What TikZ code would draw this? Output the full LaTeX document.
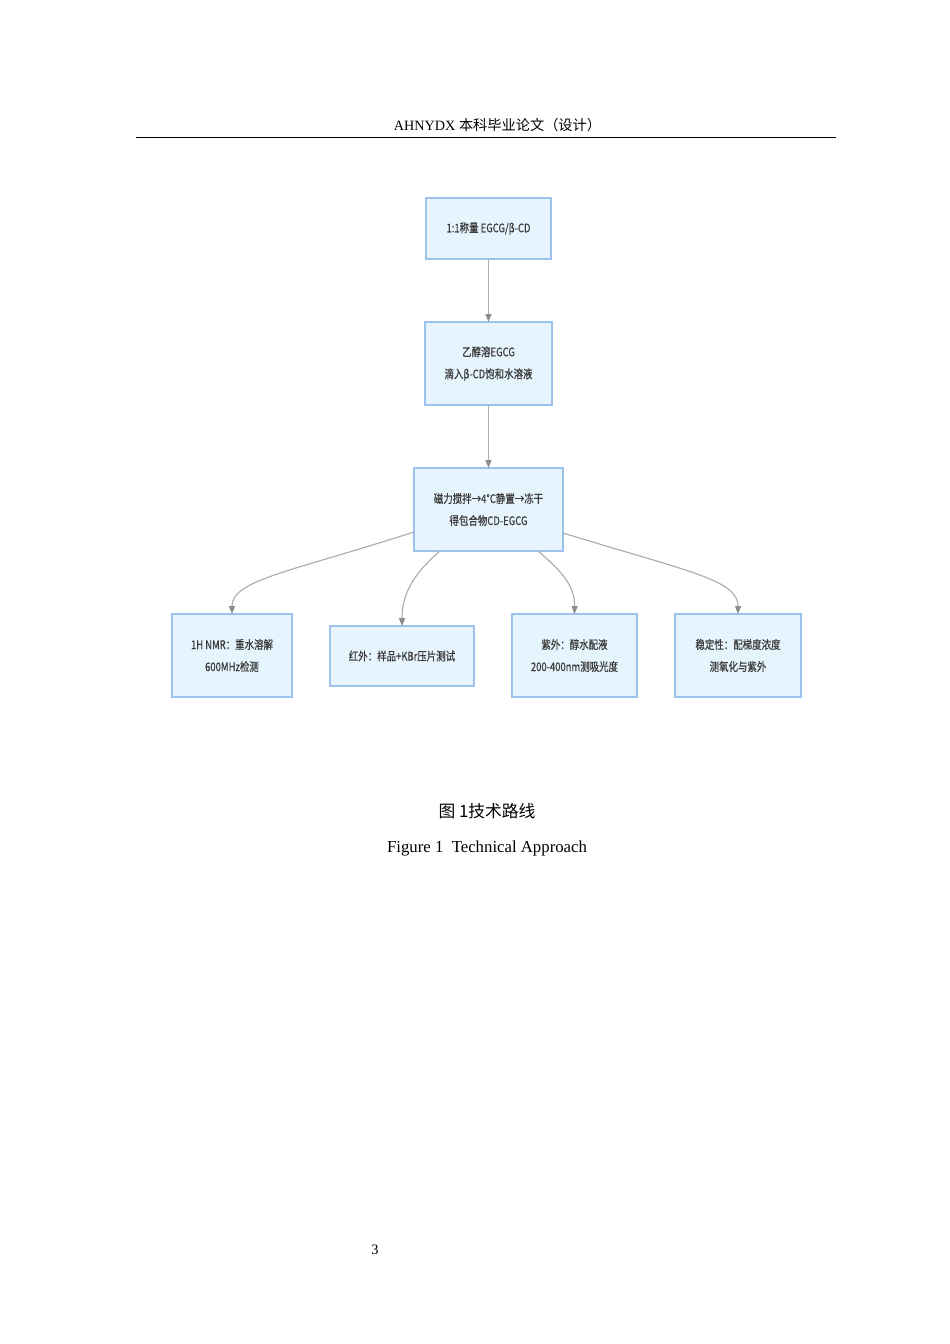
\documentclass[tikz,border=0pt]{standalone}
\usepackage{fontspec}
\setmainfont{Liberation Serif}
\newfontfamily\cjk{Noto Sans CJK SC}
\newfontfamily\cjkm[FakeBold=0.6]{Noto Sans CJK SC}
\usetikzlibrary{arrows.meta,calc}
\definecolor{boxfill}{HTML}{E6F4FD}
\definecolor{boxline}{HTML}{9CC3EE}
\definecolor{edgec}{HTML}{ACACAC}
\definecolor{tipc}{HTML}{8C8C8C}
\definecolor{txt}{HTML}{3A3A3A}
\newcommand{\nl}[1]{\scalebox{0.8}[1]{#1}}
\begin{document}
\begin{tikzpicture}[x=0.6263pt,y=-0.6263pt,
  box/.style={draw=boxline, fill=boxfill, line width=0.9pt, inner sep=0pt, outer sep=0pt,
    text=txt, font=\cjkm\fontsize{7.4}{13.8}\selectfont, align=center},
  sz/.style 2 args={minimum width=#1*0.6263pt, minimum height=#2*0.6263pt},
  conn/.style={draw=edgec, line width=0.7pt, -{Triangle[length=5pt,width=3.8pt,color=tipc]}},
  lbl/.style={inner sep=0pt, anchor=center}]
\fill[white] (0,0) rectangle (950,1344);
\useasboundingbox (0,0) rectangle (950,1344);
% header
\node[lbl, font=\fontsize{8.9}{10}\selectfont] (hdr) at (497.5,125) {AHNYDX {\cjk 本科毕业论文（设计）}};
\coordinate (rl) at (136,137.5);
\coordinate (rr) at (836,137.5);
\draw[line width=1pt] (rl) -- (rr);
% nodes
\node[box, sz={125}{61}] (n1) at (488.5,228.5) {\nl{1:1称量 EGCG/β-CD}};
\node[box, sz={127}{83}] (n2) at (488.5,363.5) {\nl{乙醇溶EGCG}\\\nl{滴入β-CD饱和水溶液}};
\node[box, sz={149}{83}] (n3) at (488.5,509.5) {\nl{磁力搅拌→4°C静置→冻干}\\\nl{得包合物CD-EGCG}};
\node[box, sz={120}{83}] (b1) at (232,655.5) {\nl{1H NMR：重水溶解}\\\nl{600MHz检测}};
\node[box, sz={144}{60}] (b2) at (402,656) {\nl{红外：样品+KBr压片测试}};
\node[box, sz={125}{83}] (b3) at (574.5,655.5) {\nl{紫外：醇水配液}\\\nl{200-400nm测吸光度}};
\node[box, sz={126}{83}] (b4) at (738,655.5) {\nl{稳定性：配梯度浓度}\\\nl{测氧化与紫外}};
% connectors
\draw[conn] (n1.south) -- (n2.north);
\draw[conn] (n2.south) -- (n3.north);
\draw[conn] ($(n3.south west)+(0,-19)$) .. controls (290,572) and (232,580) .. (b1.north);
\draw[conn] ($(n3.south west)+(26,0)$) .. controls (418,570) and (402,590) .. (b2.north);
\draw[conn] ($(n3.south east)+(-25,0)$) .. controls (560,570) and (575,585) .. (b3.north);
\draw[conn] ($(n3.south east)+(0,-18)$) .. controls (690,572) and (738,580) .. (b4.north);
% captions
\node[lbl, font=\cjk\fontsize{10.5}{12}\selectfont] (cap1) at (487,811) {图 1技术路线};
\node[lbl, font=\fontsize{10.5}{12}\selectfont] (cap2) at (487,848) {Figure 1\ \ Technical Approach};
\node[lbl, font=\fontsize{9}{10}\selectfont] (pg) at (375,1250) {3};
\end{tikzpicture}
\end{document}
